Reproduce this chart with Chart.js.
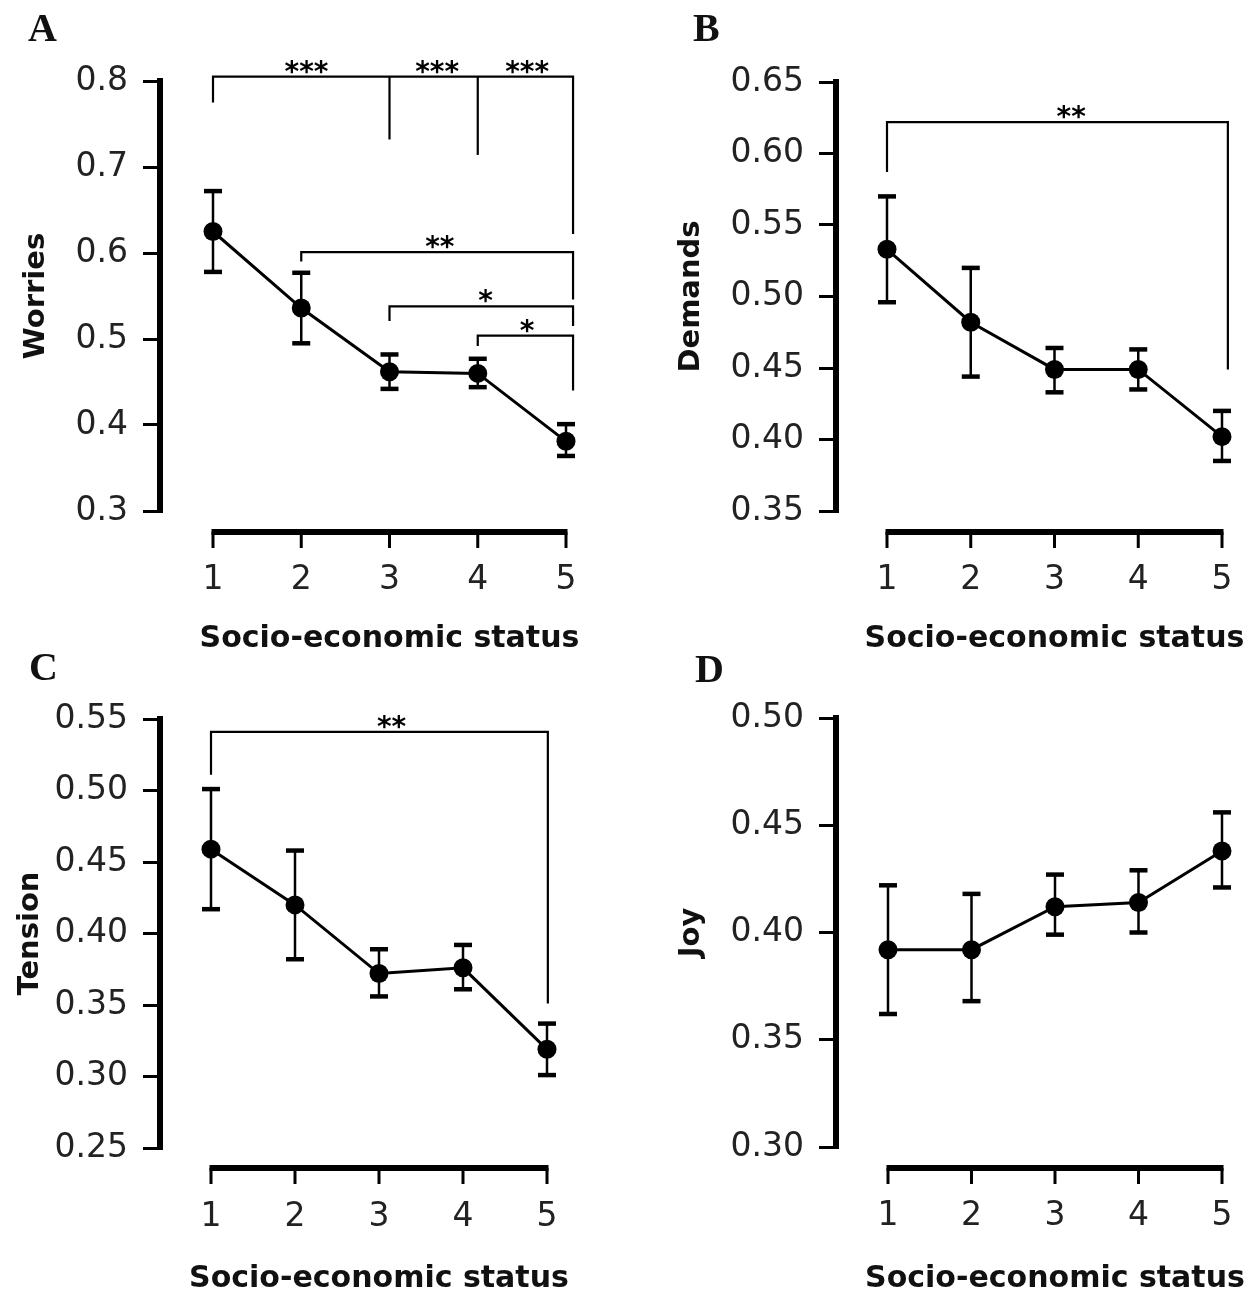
<!DOCTYPE html>
<html>
<head>
<meta charset="utf-8">
<script src="https://cdn.jsdelivr.net/npm/chart.js@4.4.1/dist/chart.umd.min.js"></script>
<style>
html, body { margin: 0; padding: 0; background: #fff; }
#fig { position: relative; width: 1255px; height: 1291px; overflow: hidden; background: #fff; }
canvas { position: absolute; }
</style>
</head>
<body>
<div id="fig">
  <canvas id="panelA"></canvas>
  <canvas id="panelB"></canvas>
  <canvas id="panelC"></canvas>
  <canvas id="panelD"></canvas>
</div>
<script>
// socio-economic status levels (x axis)
const sesLevels = [1, 2, 3, 4, 5];
const sesTickLabels = ['1', '2', '3', '4', '5'];

// A - Worries
const worriesMean = [0.625, 0.536, 0.462, 0.460, 0.381];
const worriesLow  = [0.578, 0.495, 0.442, 0.444, 0.364];
const worriesHigh = [0.672, 0.577, 0.482, 0.477, 0.401];
const worriesTicks = ['0.3', '0.4', '0.5', '0.6', '0.7', '0.8'];

// B - Demands
const demandsMean = [0.533, 0.482, 0.449, 0.449, 0.402];
const demandsLow  = [0.496, 0.444, 0.433, 0.435, 0.385];
const demandsHigh = [0.570, 0.520, 0.464, 0.463, 0.420];
const demandsTicks = ['0.35', '0.40', '0.45', '0.50', '0.55', '0.60', '0.65'];

// C - Tension
const tensionMean = [0.459, 0.420, 0.372, 0.376, 0.319];
const tensionLow  = [0.417, 0.382, 0.356, 0.361, 0.301];
const tensionHigh = [0.501, 0.458, 0.389, 0.392, 0.337];
const tensionTicks = ['0.25', '0.30', '0.35', '0.40', '0.45', '0.50', '0.55'];

// D - Joy
const joyMean = [0.392, 0.392, 0.412, 0.414, 0.438];
const joyLow  = [0.362, 0.368, 0.399, 0.400, 0.421];
const joyHigh = [0.422, 0.418, 0.427, 0.429, 0.456];
const joyTicks = ['0.30', '0.35', '0.40', '0.45', '0.50'];

// significance brackets: level, legs [x, leg end], labels [x, text]
const worriesBrackets = [
  { y: 0.805, legs: [[1, 0.775], [3, 0.732], [4, 0.714], [5.08, 0.622]], labels: [[2.06, '***'], [3.54, '***'], [4.56, '***']] },
  { y: 0.601, legs: [[2, 0.590], [5.08, 0.546]], labels: [[3.57, '**']] },
  { y: 0.538, legs: [[3, 0.521], [5.08, 0.515]], labels: [[4.09, '*']] },
  { y: 0.504, legs: [[4, 0.492], [5.08, 0.440]], labels: [[4.56, '*']] }
];
const demandsBrackets = [
  { y: 0.622, legs: [[1, 0.587], [5.07, 0.449]], labels: [[3.2, '**']] }
];
const tensionBrackets = [
  { y: 0.541, legs: [[1, 0.511], [5.01, 0.351]], labels: [[3.15, '**']] }
];
const joyBrackets = [];

const xTitle = 'Socio-economic status';

function panelPlugin(p) {
  return {
    id: 'panelExtras',
    beforeDatasetsDraw(chart) {
      const ctx = chart.ctx, xs = chart.scales.x, ys = chart.scales.y;
      ctx.save();
      ctx.strokeStyle = '#000';
      sesLevels.forEach((lvl, i) => {
        const x = xs.getPixelForValue(lvl);
        const y1 = ys.getPixelForValue(p.low[i]);
        const y2 = ys.getPixelForValue(p.high[i]);
        ctx.lineWidth = 2.5;
        ctx.beginPath(); ctx.moveTo(x, y1); ctx.lineTo(x, y2); ctx.stroke();
        ctx.lineWidth = 4.5;
        [y1, y2].forEach(y => {
          ctx.beginPath(); ctx.moveTo(x - 9, y); ctx.lineTo(x + 9, y); ctx.stroke();
        });
      });
      ctx.restore();
    },
    afterDraw(chart) {
      const ctx = chart.ctx, xs = chart.scales.x, ys = chart.scales.y;
      const area = chart.chartArea;
      ctx.save();
      ctx.strokeStyle = '#000';
      ctx.fillStyle = '#000';

      // detached x axis line with ticks
      const y0 = area.bottom + p.xAxisGap;
      const first = xs.getPixelForValue(sesLevels[0]);
      const last = xs.getPixelForValue(sesLevels[sesLevels.length - 1]);
      ctx.lineWidth = 6;
      ctx.beginPath(); ctx.moveTo(first - 1.5, y0); ctx.lineTo(last + 1.5, y0); ctx.stroke();
      ctx.lineWidth = 3;
      sesLevels.forEach(lvl => {
        const x = xs.getPixelForValue(lvl);
        ctx.beginPath(); ctx.moveTo(x, y0); ctx.lineTo(x, y0 + 16); ctx.stroke();
      });

      // brackets
      ctx.lineWidth = 2.2;
      ctx.lineJoin = 'miter';
      p.brackets.forEach(b => {
        const yb = ys.getPixelForValue(b.y);
        const legs = b.legs;
        const a = legs[0], z = legs[legs.length - 1];
        ctx.beginPath();
        ctx.moveTo(xs.getPixelForValue(a[0]), ys.getPixelForValue(a[1]));
        ctx.lineTo(xs.getPixelForValue(a[0]), yb);
        ctx.lineTo(xs.getPixelForValue(z[0]), yb);
        ctx.lineTo(xs.getPixelForValue(z[0]), ys.getPixelForValue(z[1]));
        ctx.stroke();
        legs.slice(1, -1).forEach(l => {
          ctx.beginPath();
          ctx.moveTo(xs.getPixelForValue(l[0]), yb);
          ctx.lineTo(xs.getPixelForValue(l[0]), ys.getPixelForValue(l[1]));
          ctx.stroke();
        });
        ctx.font = 'bold 28px "DejaVu Sans"';
        ctx.textAlign = 'center';
        ctx.textBaseline = 'alphabetic';
        b.labels.forEach(l => {
          ctx.fillText(l[1], xs.getPixelForValue(l[0]), yb + 4);
        });
      });

      // axis titles
      ctx.fillStyle = '#111';
      ctx.font = 'bold 30px "DejaVu Sans"';
      ctx.textAlign = 'center';
      ctx.textBaseline = 'alphabetic';
      ctx.fillText(xTitle, xs.getPixelForValue(3), p.titleY - p.top);

      ctx.font = 'bold 29px "DejaVu Sans"';
      ctx.save();
      ctx.translate(p.yTitleX - p.left, (area.top + area.bottom) / 2);
      ctx.rotate(-Math.PI / 2);
      ctx.textBaseline = 'middle';
      ctx.fillText(p.yTitle, 0, 0);
      ctx.restore();

      // panel letter
      ctx.font = 'bold 40px "Liberation Serif"';
      ctx.textAlign = 'left';
      ctx.fillText(p.letter, p.letterX - p.left, p.letterY - p.top);
      ctx.restore();
    }
  };
}

function makePanel(id, p) {
  const cv = document.getElementById(id);
  cv.width = p.w; cv.height = p.h;
  cv.style.left = p.left + 'px';
  cv.style.top = p.top + 'px';
  const unit = (p.x5 - p.x1) / 4;
  const xMin = 1 - (p.x1 - p.axisX) / unit;
  const xMax = 5 + (p.areaRight - p.x5) / unit;
  const yVals = p.ticks.map(Number);
  const tickFont = { family: 'DejaVu Sans', size: 33 };

  new Chart(cv, {
    type: 'line',
    data: {
      datasets: [{
        data: sesLevels.map((x, i) => ({ x: x, y: p.mean[i] })),
        borderColor: '#000',
        borderWidth: 3,
        pointRadius: 9.5,
        pointBackgroundColor: '#000',
        pointBorderWidth: 0,
        tension: 0,
        clip: false
      }]
    },
    options: {
      responsive: false,
      animation: false,
      devicePixelRatio: 1,
      layout: { padding: { left: 0, top: p.yTop - p.top, right: p.left + p.w - p.areaRight, bottom: 0 } },
      plugins: { legend: { display: false }, tooltip: { enabled: false } },
      scales: {
        x: {
          type: 'linear',
          min: xMin,
          max: xMax,
          afterBuildTicks: s => { s.ticks = sesLevels.map(v => ({ value: v })); },
          afterFit: s => { s.height = p.top + p.h - p.yBottom; },
          // invisible ticks only push the labels down below the detached axis line
          grid: { display: true, drawOnChartArea: false, drawTicks: true, tickLength: 50, color: 'rgba(0,0,0,0)' },
          border: { display: false },
          ticks: {
            font: tickFont, color: '#222', padding: 0, maxRotation: 0, autoSkip: false,
            callback: (v, i) => sesTickLabels[i]
          }
        },
        y: {
          min: yVals[0],
          max: yVals[yVals.length - 1],
          afterBuildTicks: s => { s.ticks = yVals.map(v => ({ value: v })); },
          afterFit: s => { s.width = p.axisX - p.left; },
          grid: { drawOnChartArea: false, drawTicks: true, tickLength: 17, lineWidth: 3, color: '#000' },
          border: { display: true, width: 6, color: '#000' },
          ticks: {
            font: tickFont, color: '#222', padding: 15,
            callback: (v, i) => p.ticks[i]
          }
        }
      }
    },
    plugins: [panelPlugin(p)]
  });
}

makePanel('panelA', {
  left: 0, top: 0, w: 627, h: 650, axisX: 160, yTop: 81, yBottom: 511, x1: 213, x5: 566, areaRight: 600,
  xAxisGap: 21, titleY: 647, yTitleX: 36, letter: 'A', letterX: 28, letterY: 41, yTitle: 'Worries',
  mean: worriesMean, low: worriesLow, high: worriesHigh, ticks: worriesTicks, brackets: worriesBrackets
});
makePanel('panelB', {
  left: 627, top: 0, w: 628, h: 650, axisX: 836, yTop: 82, yBottom: 511, x1: 887, x5: 1222, areaRight: 1245,
  xAxisGap: 21, titleY: 647, yTitleX: 691, letter: 'B', letterX: 693, letterY: 41, yTitle: 'Demands',
  mean: demandsMean, low: demandsLow, high: demandsHigh, ticks: demandsTicks, brackets: demandsBrackets
});
makePanel('panelC', {
  left: 0, top: 650, w: 627, h: 641, axisX: 160, yTop: 719, yBottom: 1148, x1: 211, x5: 547, areaRight: 600,
  xAxisGap: 20, titleY: 1287, yTitleX: 30, letter: 'C', letterX: 29, letterY: 680, yTitle: 'Tension',
  mean: tensionMean, low: tensionLow, high: tensionHigh, ticks: tensionTicks, brackets: tensionBrackets
});
makePanel('panelD', {
  left: 627, top: 650, w: 628, h: 641, axisX: 836, yTop: 718, yBottom: 1147, x1: 888, x5: 1222, areaRight: 1245,
  xAxisGap: 21, titleY: 1287, yTitleX: 691, letter: 'D', letterX: 695, letterY: 682, yTitle: 'Joy',
  mean: joyMean, low: joyLow, high: joyHigh, ticks: joyTicks, brackets: joyBrackets
});
</script>
</body>
</html>
